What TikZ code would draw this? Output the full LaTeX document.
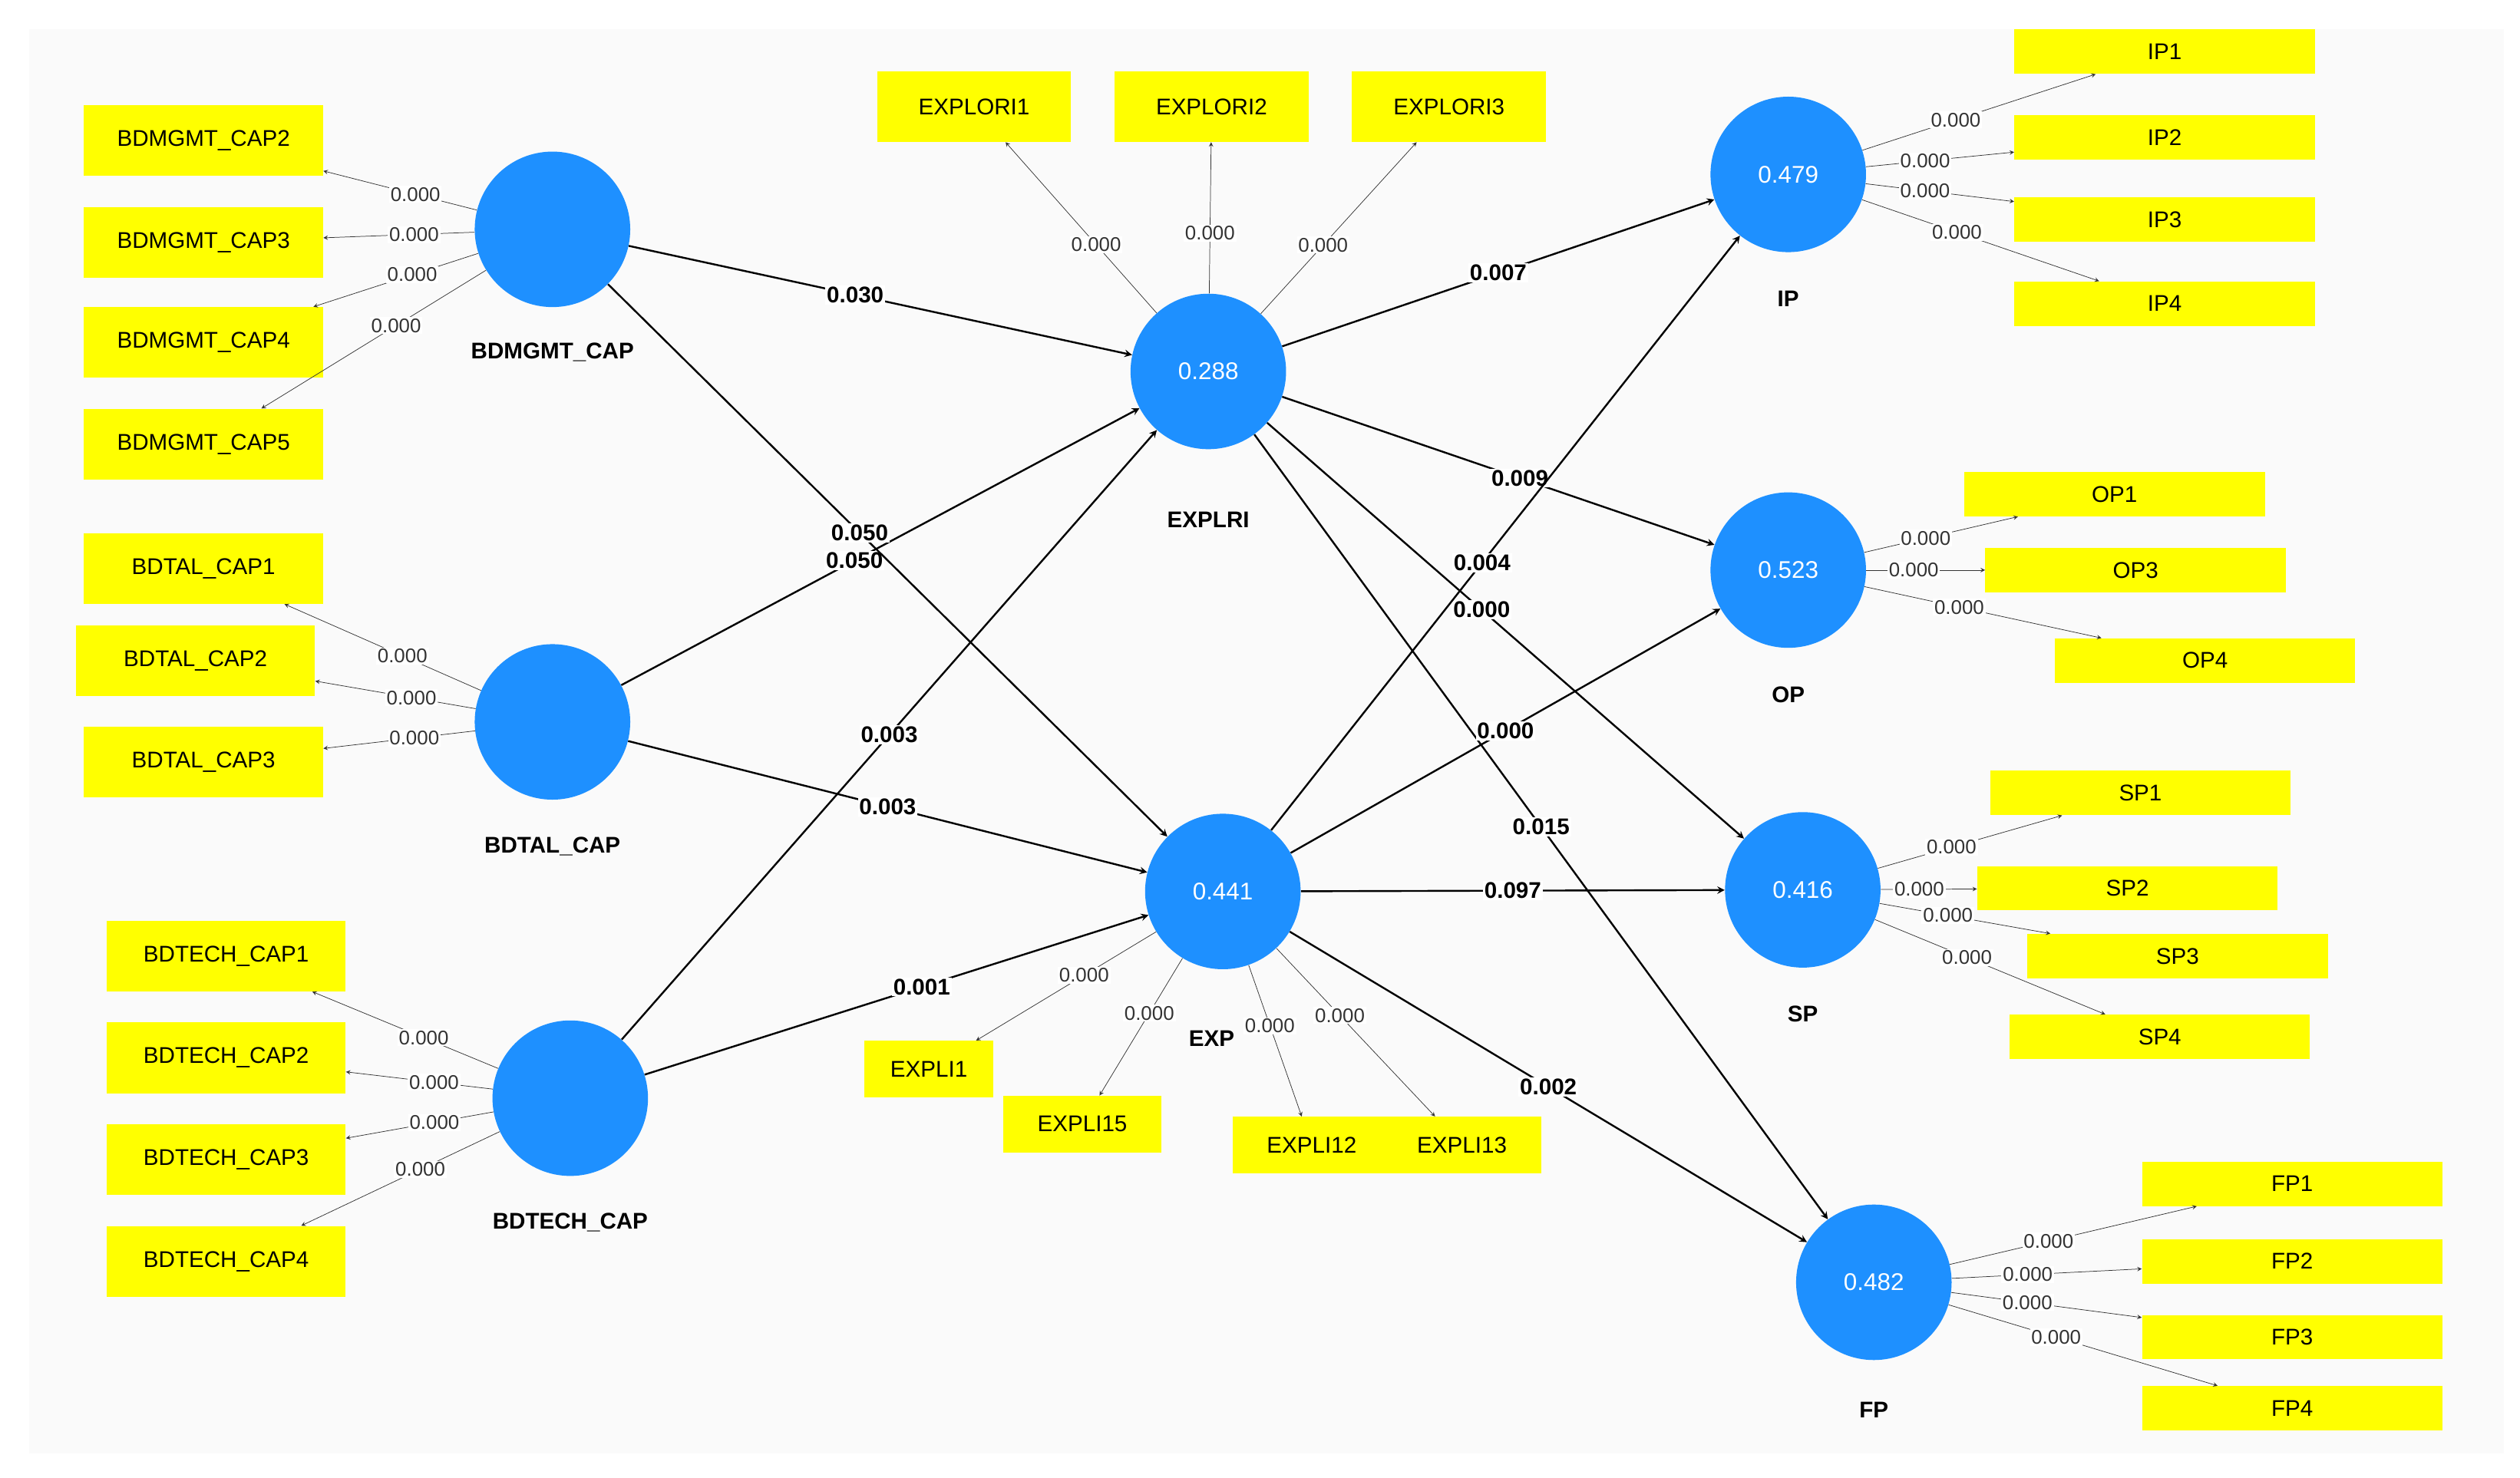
\documentclass[tikz,border=0pt]{standalone}
\usepackage{fontspec}
\setmainfont{Liberation Sans}
\definecolor{lv}{RGB}{30,144,255}
\definecolor{ind}{RGB}{255,255,0}
\begin{document}
\begin{tikzpicture}[x=0.04cm,y=-0.04cm,
 lat/.style={circle,fill=lv,minimum size=3.85cm,inner sep=0pt,text=white,font=\fontsize{17}{17}\selectfont},
 box/.style={fill=ind,minimum width=#1*0.04cm,minimum height=1.75cm,inner sep=0pt,font=\fontsize{16}{16}\selectfont},
 box/.default=148,
 sbox/.style={fill=ind,minimum width=#1*0.04cm,minimum height=1.1cm,inner sep=0pt,font=\fontsize{16}{16}\selectfont},
 lname/.style={font=\bfseries\fontsize{16}{16}\selectfont},
 ld/.style={->,>=stealth,thin,black!80},
 pc/.style={->,>=stealth,line width=1.3pt},
 ll/.style={font=\fontsize{14}{14}\selectfont,fill=white,inner sep=1pt},
 pl/.style={font=\bfseries\fontsize{16}{16}\selectfont,fill=white,inner sep=1pt}]
\useasboundingbox (0,0) rectangle (1560,915);
\fill[gray!4] (18,18) rectangle (1550,900);
% latents
\node[lat] (M) at (342,142) {};
\node[lat] (T) at (342,447) {};
\node[lat] (H) at (353,680) {};
\node[lat] (R) at (748,230) {0.288};
\node[lat] (E) at (757,552) {0.441};
\node[lat] (IP) at (1107,108) {0.479};
\node[lat] (OP) at (1107,353) {0.523};
\node[lat] (SP) at (1116,551) {0.416};
\node[lat] (FP) at (1160,794) {0.482};
\node[lname] (lM) at (342,218) {BDMGMT\_CAP};
\node[lname] (lT) at (342,524) {BDTAL\_CAP};
\node[lname] (lH) at (353,757) {BDTECH\_CAP};
\node[lname] (lR) at (748,322) {EXPLRI};
\node[lname] (lE) at (750,643) {EXP};
\node[lname] (lIP) at (1107,185) {IP};
\node[lname] (lOP) at (1107,430) {OP};
\node[lname] (lSP) at (1116,628) {SP};
\node[lname] (lFP) at (1160,873) {FP};
% indicator boxes
\node[box] (m2) at (126,87) {BDMGMT\_CAP2};
\node[box] (m3) at (126,150) {BDMGMT\_CAP3};
\node[box] (m4) at (126,212) {BDMGMT\_CAP4};
\node[box] (m5) at (126,275) {BDMGMT\_CAP5};
\node[box] (t1) at (126,352) {BDTAL\_CAP1};
\node[box] (t2) at (121,409) {BDTAL\_CAP2};
\node[box] (t3) at (126,472) {BDTAL\_CAP3};
\node[box] (h1) at (140,592) {BDTECH\_CAP1};
\node[box] (h2) at (140,655) {BDTECH\_CAP2};
\node[box] (h3) at (140,718) {BDTECH\_CAP3};
\node[box] (h4) at (140,781) {BDTECH\_CAP4};
\node[box=120] (r1) at (603,66) {EXPLORI1};
\node[box=120] (r2) at (750,66) {EXPLORI2};
\node[box=120] (r3) at (897,66) {EXPLORI3};
\node[sbox=186] (i1) at (1340,32) {IP1};
\node[sbox=186] (i2) at (1340,85) {IP2};
\node[sbox=186] (i3) at (1340,136) {IP3};
\node[sbox=186] (i4) at (1340,188) {IP4};
\node[sbox=186] (o1) at (1309,306) {OP1};
\node[sbox=186] (o3) at (1322,353) {OP3};
\node[sbox=186] (o4) at (1365,409) {OP4};
\node[sbox=186] (s1) at (1325,491) {SP1};
\node[sbox=186] (s2) at (1317,550) {SP2};
\node[sbox=186] (s3) at (1348,592) {SP3};
\node[sbox=186] (s4) at (1337,642) {SP4};
\node[sbox=186] (f1) at (1419,733) {FP1};
\node[sbox=186] (f2) at (1419,781) {FP2};
\node[sbox=186] (f3) at (1419,828) {FP3};
\node[sbox=186] (f4) at (1419,872) {FP4};
\node[box=80,minimum height=1.4cm] (e1) at (575,662) {EXPLI1};
\node[box=98,minimum height=1.4cm] (e15) at (670,696) {EXPLI15};
\node[box=98,minimum height=1.4cm] (e12) at (812,709) {EXPLI12};
\node[box=98,minimum height=1.4cm] (e13) at (905,709) {EXPLI13};
% loadings
\foreach \a/\b in {M/m2,M/m3,M/m4,M/m5,T/t1,T/t2,T/t3,H/h1,H/h2,H/h3,H/h4,R/r1,R/r2,R/r3,IP/i1,IP/i2,IP/i3,IP/i4,OP/o1,OP/o3,OP/o4,SP/s1,SP/s2,SP/s3,SP/s4,FP/f1,FP/f2,FP/f3,FP/f4,E/e1,E/e15,E/e12,E/e13}
  \draw[ld] (\a) -- (\b) node[ll,pos=0.4]{0.000};
% paths
\draw[pc] (M) -- (R) node[pl,pos=0.45]{0.030};
\draw[pc] (T) -- (R) node[pl,pos=0.45]{0.050};
\draw[pc] (M) -- (E) node[pl,pos=0.45]{0.050};
\draw[pc] (T) -- (E) node[pl,pos=0.5]{0.003};
\draw[pc] (H) -- (R) node[pl,pos=0.5]{0.003};
\draw[pc] (H) -- (E) node[pl,pos=0.55]{0.001};
\draw[pc] (R) -- (IP) node[pl,pos=0.5]{0.007};
\draw[pc] (R) -- (OP) node[pl,pos=0.55]{0.009};
\draw[pc] (R) -- (SP) node[pl,pos=0.45]{0.000};
\draw[pc] (R) -- (FP) node[pl,pos=0.5]{0.015};
\draw[pc] (E) -- (IP) node[pl,pos=0.45]{0.004};
\draw[pc] (E) -- (OP) node[pl,pos=0.5]{0.000};
\draw[pc] (E) -- (SP) node[pl,pos=0.5]{0.097};
\draw[pc] (E) -- (FP) node[pl,pos=0.5]{0.002};
\end{tikzpicture}
\end{document}
